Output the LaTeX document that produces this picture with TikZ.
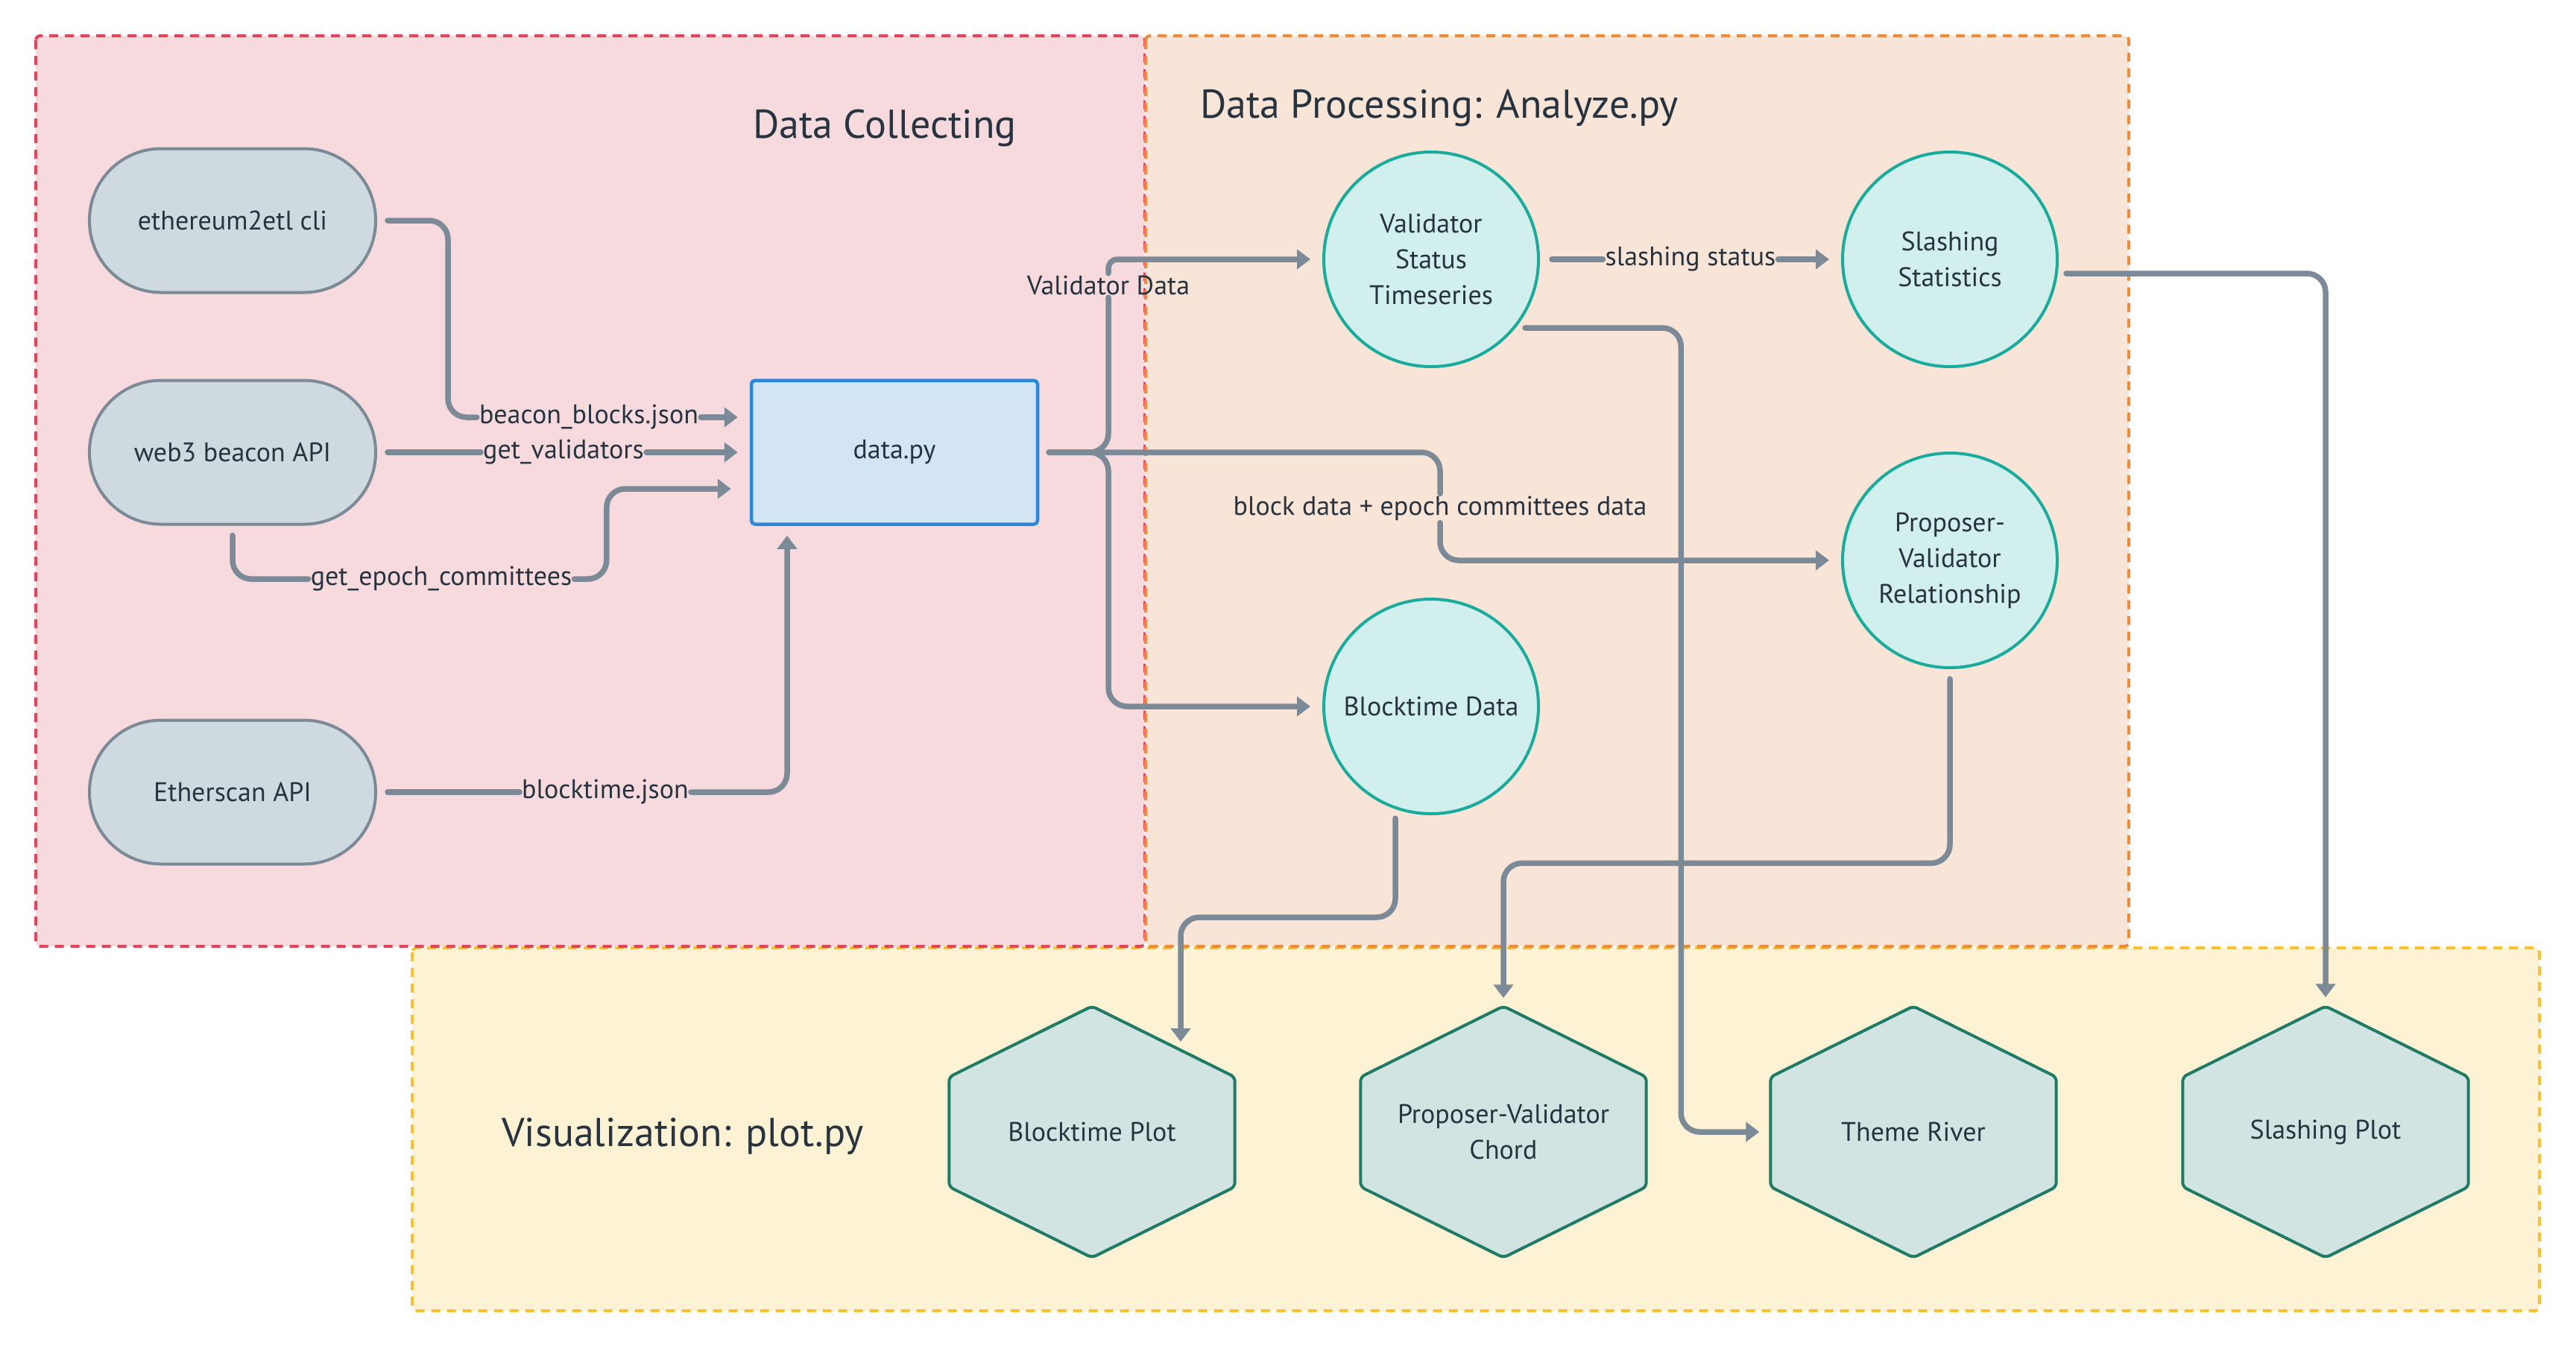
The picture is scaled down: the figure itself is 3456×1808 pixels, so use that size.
\documentclass[tikz,border=0pt]{standalone}
\usepackage{tikz}
\usepackage{fontspec}
\setmainfont{PT Sans}
\usetikzlibrary{arrows.meta,calc}
\pgfdeclarelayer{groups}
\pgfdeclarelayer{shapes}
\pgfsetlayers{groups,shapes,main}
\definecolor{pinkF}{HTML}{F6DADD}
\definecolor{pinkB}{HTML}{E0455C}
\definecolor{peachF}{HTML}{F9E5D8}
\definecolor{peachB}{HTML}{EF8A3B}
\definecolor{yelF}{HTML}{FDF2D3}
\definecolor{yelB}{HTML}{F6C232}
\definecolor{pillF}{HTML}{CFD9E0}
\definecolor{pillB}{HTML}{7C8A97}
\definecolor{procF}{HTML}{D3E5F5}
\definecolor{procB}{HTML}{2B87DA}
\definecolor{circF}{HTML}{D1EFED}
\definecolor{circB}{HTML}{19AB9B}
\definecolor{hexF}{HTML}{D1E4E2}
\definecolor{hexB}{HTML}{1F7A66}
\definecolor{edgeC}{HTML}{7C8A97}
\definecolor{txt}{HTML}{27333F}
\newcommand\drawhexagon[1]{\path[hexs] (#1.north) -- ([yshift=-95pt]#1.north east) -- ([yshift=95pt]#1.south east) -- (#1.south) -- ([yshift=95pt]#1.south west) -- ([yshift=-95pt]#1.north west) -- cycle;}
\begin{document}
\begin{tikzpicture}[x=1pt,y=-1pt,
  every node/.style={text=txt, font=\fontsize{36}{48}\selectfont},
  grp/.style={line width=4pt, dash pattern=on 12pt off 9pt, rounded corners=6pt},
  title/.style={font=\fontsize{54}{64}\selectfont, anchor=base west, inner sep=0pt},
  pill/.style={draw=pillB, fill=pillF, line width=4pt, rounded corners=96pt, minimum width=384pt, minimum height=193pt},
  proc/.style={draw=procB, fill=procF, line width=4.5pt, rounded corners=5pt, minimum width=384pt, minimum height=193pt},
  circ/.style={circle, draw=circB, fill=circF, line width=4pt, minimum size=288pt, inner sep=0pt, align=center},
  hexn/.style={rectangle, minimum width=383pt, minimum height=337pt, inner sep=0pt, align=center},
  hexs/.style={draw=hexB, fill=hexF, line width=4pt, rounded corners=6pt, line join=round},
  lbl/.style={inner sep=3pt},
  conn/.style={draw=edgeC, line width=7.5pt, rounded corners=25pt, line cap=round},
  arr/.style={conn, -{Triangle[length=18pt,width=26pt]}}
]
\useasboundingbox (0,0) rectangle (3456,1808);
\begin{pgfonlayer}{groups}
  \path[grp, fill=yelF, draw=yelB] (553,1272) rectangle (3407,1759);
  \path[grp, fill=pinkF, draw=pinkB] (48,48) rectangle (1536,1270);
  \path[grp, fill=peachF, draw=peachB] (1537,48) rectangle (2856,1270);
\end{pgfonlayer}

\node[title] (tcol) at (1010,185) {Data Collecting};
\node[title] (tproc) at (1610,158) {Data Processing: Analyze.py};
\node[title] (tvis) at (673,1538) {Visualization: plot.py};

\node[pill] (eth) at (312,296) {ethereum2etl cli};
\node[pill] (web3) at (312,607) {web3 beacon API};
\node[pill] (eths) at (312,1063) {Etherscan API};
\node[proc] (datapy) at (1200,607) {data.py};

\node[circ] (vst) at (1920,348) {Validator\\Status\\Timeseries};
\node[circ] (sst) at (2616,348) {Slashing\\Statistics};
\node[circ] (pvr) at (2616,752) {Proposer-\\Validator\\Relationship};
\node[circ] (btd) at (1920,948) {Blocktime Data};

\node[hexn] (bpl) at (1465,1519) {Blocktime Plot};
\node[hexn] (pvc) at (2017,1519) {Proposer-Validator\\Chord};
\node[hexn] (tr) at (2567,1519) {Theme River};
\node[hexn] (sp) at (3120,1519) {Slashing Plot};
\begin{pgfonlayer}{shapes}
  \drawhexagon{bpl}
  \drawhexagon{pvc}
  \drawhexagon{tr}
  \drawhexagon{sp}
\end{pgfonlayer}

\node[lbl] (bbj) at (790,560) {beacon\_blocks.json};
\node[lbl] (gv) at (756,607) {get\_validators};
\node[lbl] (gec) at (592,777) {get\_epoch\_committees};
\node[lbl] (btj) at (812,1063) {blocktime.json};
\node[lbl] (vdl) at (1487,383) {Validator Data};
\node[lbl] (bdl) at (1932,682) {block data + epoch committees data};
\node[lbl] (ssl) at (2268,348) {slashing status};

% data collecting
\draw[conn] ([xshift=14pt]eth.east) -- ++(81,0) |- (bbj.west);
\draw[arr] (bbj.east) -- ([xshift=-16pt]datapy.west |- bbj.east);
\draw[conn] ([xshift=14pt]web3.east) -- (gv.west);
\draw[arr] (gv.east) -- ([xshift=-16pt]datapy.west);
\draw[conn] ([yshift=-13pt]web3.south) |- (gec.west);
\draw[arr] (gec.east) -| ($(datapy.west)+(-192,49)$) -- ($(datapy.west)+(-25,49)$);
\draw[conn] ([xshift=14pt]eths.east) -- (btj.west);
\draw[arr] (btj.east) -| ($(datapy.south)+(-144,13)$);

% branches out of data.py
\draw[conn] ([xshift=13pt]datapy.east) -| (vdl.south);
\draw[arr, rounded corners=12pt] (vdl.north) |- ([xshift=-16pt]vst.west);
\draw[arr] ([xshift=13pt]datapy.east) -| (vdl.south |- btd.west) -- ([xshift=-16pt]btd.west);
\draw[conn] ([xshift=13pt]datapy.east) -| (bdl.north);
\draw[arr] (bdl.south) |- ([xshift=-16pt]pvr.west);

% processing
\draw[conn] ([xshift=16pt]vst.east) -- (ssl.west);
\draw[arr] (ssl.east) -- ([xshift=-16pt]sst.west);
\draw[arr] ($(vst.center)+(126,92)$) -| ($(tr.west)+(-120,0)$) -- ([xshift=-15pt]tr.west);
\draw[arr] ($(sst.center)+(156,19)$) -| ([yshift=12pt]sp.north);
\draw[arr] ([yshift=-13pt]pvr.south) |- ($(pvc.north)+(0,-192)$) -- ([yshift=11pt]pvc.north);
\draw[arr] ($(btd.center)+(-48,150)$) |- ($(bpl.center)+(119,-288)$) -- ($(bpl.center)+(119,-121)$);
\end{tikzpicture}
\end{document}
